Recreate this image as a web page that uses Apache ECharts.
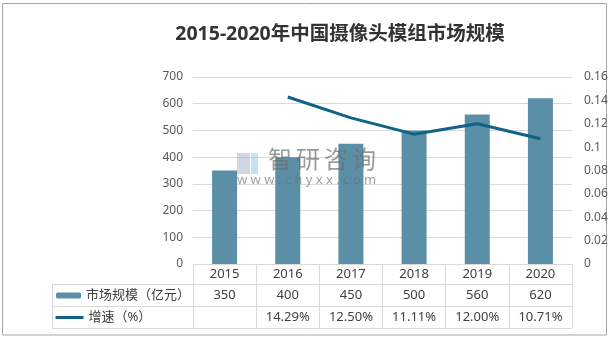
<!DOCTYPE html>
<html><head><meta charset="utf-8">
<script src="https://cdn.jsdelivr.net/npm/echarts@6/dist/echarts.min.js"></script>
<style>html,body{margin:0;padding:0;background:#fff}#c{width:613px;height:340px}</style>
</head><body><div id="c"></div>
<script>
const categories = ['2015','2016','2017','2018','2019','2020'];
const marketSize = [350, 400, 450, 500, 560, 620];
const growth = [null, 0.1429, 0.1250, 0.1111, 0.1200, 0.1071];
const leftTicks = {min:0, max:700, interval:100};
const rightTicks = {min:0, max:0.16, interval:0.02};
const sizeName = '市场规模（亿元）';
const growthName = '增速（%）';

const FONT = '"Noto Sans","Noto Sans CJK SC",sans-serif';
const GRID = '#d9d9d9';
const chart = echarts.init(document.getElementById('c'));
const tableAxis = (offset, fmt) => ({
  type:'category', data:categories, position:'bottom', offset:offset, gridIndex:0,
  axisLine:{show:true, onZero:false, lineStyle:{color:GRID}}, axisTick:{show:false},
  axisLabel:{show:!!fmt, formatter:fmt, margin:5, fontSize:13, color:'#404040', fontFamily:FONT},
  splitLine:{show:false}
});
const hline = (x1, x2, y) => ({type:'line', silent:true, shape:{x1:x1, y1:y, x2:x2, y2:y}, style:{stroke:GRID, lineWidth:1}});
const wmChar = (ch, x) => ({type:'text', silent:true, left:x, top:149, z:100,
  style:{text:ch, fontSize:24, fill:'rgba(110,110,110,0.7)', fontFamily:FONT}});
chart.setOption({
  animation:false,
  title:{text:'2015-2020年中国摄像头模组市场规模', left:335, top:20, textAlign:'center',
    textStyle:{fontSize:19.5, fontWeight:'bold', color:'#333', fontFamily:FONT}},
  grid:{left:193, right:41, top:77, bottom:76},
  legend:[
    {data:[sizeName], left:56, top:289, padding:0, itemWidth:25, itemHeight:6, itemGap:0,
     textStyle:{fontSize:13, color:'#404040', fontFamily:FONT}, selectedMode:false},
    {data:[growthName], left:54, top:311, padding:0, itemWidth:28, itemHeight:4,
     lineStyle:{width:3},
     textStyle:{fontSize:13, color:'#404040', fontFamily:FONT}, selectedMode:false}
  ],
  xAxis:[
    {type:'category', data:categories, boundaryGap:true,
     axisLine:{show:true, onZero:false, lineStyle:{color:GRID}},
     axisTick:{show:true, length:64, lineStyle:{color:GRID}},
     axisLabel:{margin:4, fontSize:13, color:'#404040', fontFamily:FONT}},
    tableAxis(20, (v, i) => String(marketSize[i])),
    tableAxis(42, (v, i) => growth[i] == null ? '' : (growth[i]*100).toFixed(2) + '%'),
    tableAxis(64, null)
  ],
  yAxis:[
    {type:'value', min:leftTicks.min, max:leftTicks.max, interval:leftTicks.interval,
     axisLine:{show:false}, axisTick:{show:false},
     axisLabel:{margin:10, fontSize:12, color:'#595959', fontFamily:FONT},
     splitLine:{lineStyle:{color:GRID}}},
    {type:'value', min:rightTicks.min, max:rightTicks.max, interval:rightTicks.interval,
     position:'right', axisLine:{show:false}, axisTick:{show:false},
     axisLabel:{margin:12, fontSize:12, color:'#595959', fontFamily:FONT,
       formatter:v => String(+v.toFixed(2))},
     splitLine:{show:false}}
  ],
  series:[
    {name:sizeName, type:'bar', data:marketSize, barWidth:25, itemStyle:{color:'#5b8fa7'}},
    {name:growthName, type:'line', yAxisIndex:1, data:growth, symbol:'none', connectNulls:false,
     lineStyle:{color:'#0f6388', width:3}, itemStyle:{color:'#0f6388'}}
  ],
  graphic:[
    {type:'rect', silent:true, shape:{x:2.5, y:3.5, width:604, height:331.5}, style:{fill:'none', stroke:'#a6a6a6', lineWidth:1}},
    hline(52, 572, 284.5), hline(52, 572, 306.5), hline(52, 572, 328.5),
    {type:'line', silent:true, shape:{x1:52.5, y1:284, x2:52.5, y2:329}, style:{stroke:GRID, lineWidth:1}},
    wmChar('智', 268), wmChar('研', 296), wmChar('咨', 324), wmChar('询', 352),
    {type:'text', silent:true, left:237, top:174, z:100, style:{text:'w w w . c h y x x . c o m', fontSize:13, fill:'rgba(110,110,110,0.65)', fontFamily:FONT}},
    {type:'rect', silent:true, shape:{x:237, y:153, width:13, height:21}, z:100, style:{fill:'rgba(160,175,205,0.5)'}},
    {type:'rect', silent:true, shape:{x:251, y:153, width:7, height:21}, z:100, style:{fill:'rgba(140,195,235,0.5)'}}
  ]
});
</script></body></html>
